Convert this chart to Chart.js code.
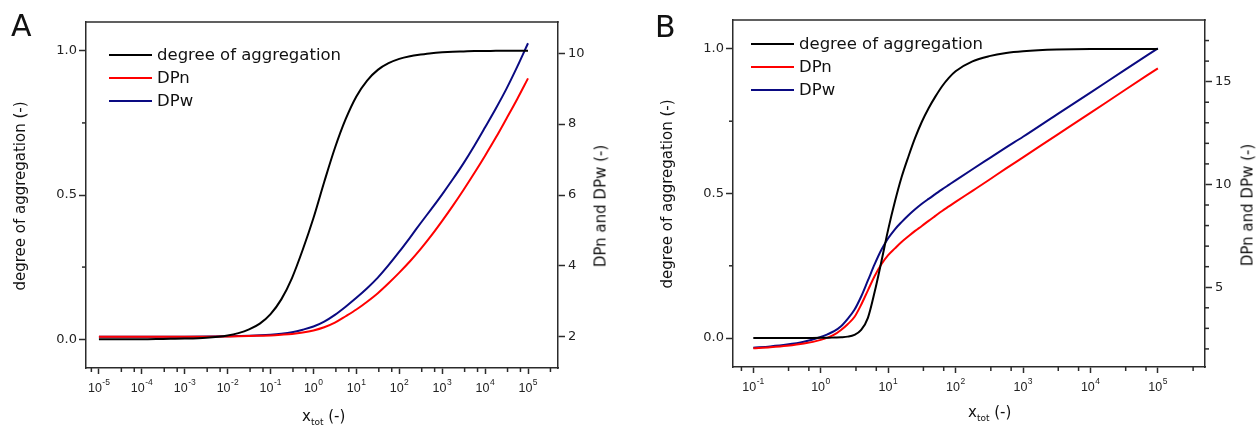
<!DOCTYPE html>
<html lang="en">
<head>
  <meta charset="UTF-8">
  <title>Degree of aggregation, DPn and DPw</title>
  <script src="https://cdn.jsdelivr.net/npm/chart.js@4"></script>
  <style>
    body { margin: 0; background: #fff; font-family: "DejaVu Sans", sans-serif; color: #111; }
    #wrap { position: relative; width: 1257px; height: 427px; overflow: hidden; }
    canvas { position: absolute; top: 0; }
    .panel { position: absolute; font-size: 30px; line-height: 1; }
    .title { position: absolute; font-size: 15px; line-height: 1; white-space: nowrap; }
    .rot { transform: translate(-50%, -50%) rotate(-90deg); }
    .title sub { font-size: 9px; vertical-align: -4px; line-height: 0; }
    .legend { position: absolute; font-size: 16.5px; white-space: nowrap; }
    .legend div { display: flex; align-items: center; height: 23px; }
    .legend .sw { display: inline-block; width: 43px; height: 2px; margin-right: 5px; }
  </style>
</head>
<body>
<div id="wrap">
  <canvas id="chartA" width="628" height="427" style="left:0"></canvas>
  <canvas id="chartB" width="629" height="427" style="left:628px"></canvas>

  <div class="panel" style="left:11px; top:11px">A</div>
  <div class="panel" style="left:655px; top:12px">B</div>

  <div class="legend" id="legendA" style="left:109px; top:43px"></div>
  <div class="legend" id="legendB" style="left:751px; top:32px"></div>

  <div class="title rot" style="left:20px; top:196px">degree of aggregation (-)</div>
  <div class="title rot" style="left:601px; top:206px">DPn and DPw (-)</div>
  <div class="title" style="left:302px; top:409px">x<sub>tot</sub> (-)</div>

  <div class="title rot" style="left:667px; top:194px">degree of aggregation (-)</div>
  <div class="title rot" style="left:1248px; top:205px">DPn and DPw (-)</div>
  <div class="title" style="left:968px; top:405px">x<sub>tot</sub> (-)</div>
</div>

<script>
  const seriesNames = ['degree of aggregation', 'DPn', 'DPw'];
  const seriesColors = ['#000000', '#ff0000', '#0a0a82'];

  // panel A
  const xA = [1e-5, 3.16e-5, 1e-4, 3.16e-4, 1e-3, 3.16e-3, 1e-2, 1.78e-2, 3.16e-2, 5.62e-2,
              0.1, 0.178, 0.316, 0.562, 1, 1.78, 3.16, 5.62, 10, 17.8, 31.6, 56.2,
              100, 178, 316, 562, 1000, 1780, 3160, 5620, 1e4, 1.78e4, 3.16e4, 5.62e4, 1e5];
  const aggA = [0, 0, 0, 0.001, 0.002, 0.005, 0.013, 0.021, 0.034, 0.054,
                0.087, 0.138, 0.212, 0.31, 0.42, 0.545, 0.663, 0.763, 0.842, 0.897, 0.934, 0.957,
                0.972, 0.981, 0.987, 0.992, 0.995, 0.997, 0.998, 0.999, 0.999, 1.0, 1.0, 1.0, 1.0];
  const dpnA = [2.0, 2.0, 2.0, 2.0, 2.001, 2.003, 2.01, 2.014, 2.02, 2.03,
                2.04, 2.058, 2.08, 2.12, 2.18, 2.27, 2.4, 2.58, 2.77, 2.99, 3.23, 3.51,
                3.81, 4.13, 4.48, 4.86, 5.27, 5.7, 6.15, 6.62, 7.11, 7.62, 8.16, 8.71, 9.29];
  const dpwA = [2.0, 2.0, 2.0, 2.001, 2.002, 2.006, 2.015, 2.022, 2.03, 2.042,
                2.06, 2.088, 2.13, 2.2, 2.29, 2.43, 2.62, 2.85, 3.1, 3.37, 3.67, 4.02,
                4.4, 4.8, 5.21, 5.61, 6.02, 6.45, 6.9, 7.39, 7.91, 8.44, 9.0, 9.62, 10.28];
  const xExpA = [-5, -4, -3, -2, -1, 0, 1, 2, 3, 4, 5];
  const dpTicksA = [2, 4, 6, 8, 10];
  const dpLabelsA = [2, 4, 6, 8, 10];

  // panel B
  const xB = [0.1, 0.178, 0.316, 0.562, 1, 1.26, 1.58, 2, 2.51, 3.16, 3.98, 5.01, 6.31, 7.94,
              10, 12.6, 15.8, 20, 25.1, 31.6, 39.8, 50.1, 63.1, 79.4, 100,
              178, 316, 562, 1000, 3160, 1e4, 3.16e4, 1e5];
  const aggB = [0, 0, 0, 0, 0.001, 0.001, 0.002, 0.003, 0.005, 0.011, 0.028, 0.07, 0.16, 0.265,
                0.375, 0.472, 0.556, 0.628, 0.692, 0.748, 0.795, 0.835, 0.871, 0.9, 0.923,
                0.957, 0.975, 0.986, 0.992, 0.998, 1.0, 1.0, 1.0];
  const dpnB = [2.03, 2.08, 2.15, 2.26, 2.44, 2.55, 2.69, 2.92, 3.2, 3.55, 4.15, 4.85, 5.55, 6.12,
                6.56, 6.89, 7.2, 7.48, 7.74, 7.98, 8.23, 8.47, 8.71, 8.93, 9.15,
                9.69, 10.23, 10.78, 11.32, 12.4, 13.48, 14.57, 15.65];
  const dpwB = [2.06, 2.12, 2.21, 2.35, 2.58, 2.71, 2.86, 3.1, 3.46, 3.9, 4.55, 5.33, 6.12, 6.82,
                7.38, 7.82, 8.17, 8.5, 8.79, 9.06, 9.3, 9.53, 9.76, 9.98, 10.2,
                10.74, 11.27, 11.8, 12.32, 13.4, 14.47, 15.55, 16.62];
  const xExpB = [-1, 0, 1, 2, 3, 4, 5];
  const dpTicksB = [2, 3, 4, 5, 6, 7, 8, 9, 10, 11, 12, 13, 14, 15, 16, 17];
  const dpLabelsB = [5, 10, 15];

  const aggTicks = [0, 0.25, 0.5, 0.75, 1.0];
  const aggLabels = [0, 0.5, 1.0];

  Chart.defaults.font.family = '"DejaVu Sans", sans-serif';
  Chart.defaults.color = '#222';

  const axisColor = '#2b2b2b';
  const isDecade = v => Math.abs(Math.log10(v) - Math.round(Math.log10(v))) < 1e-6;

  // top edge of the frame, short minor ticks, and 10^n labels with a raised exponent
  const axisExtras = {
    id: 'axisExtras',
    afterDraw(chart) {
      const a = chart.chartArea, c = chart.ctx;
      c.save();
      c.strokeStyle = axisColor;
      c.lineWidth = 1.5;
      c.beginPath();
      c.moveTo(a.left - 0.75, a.top);
      c.lineTo(a.right + 0.75, a.top);
      c.stroke();

      Object.values(chart.scales).forEach(s => {
        s.ticks.forEach(t => {
          if (t.label !== '') return;
          const p = s.getPixelForValue(t.value);
          c.beginPath();
          if (s.axis === 'x') { c.moveTo(p, s.top); c.lineTo(p, s.top + 4); }
          else if (s.position === 'left') { c.moveTo(s.right, p); c.lineTo(s.right - 4, p); }
          else { c.moveTo(s.left, p); c.lineTo(s.left + 4, p); }
          c.stroke();
        });
      });

      const xs = chart.scales.x;
      c.fillStyle = '#222';
      c.textBaseline = 'alphabetic';
      c.textAlign = 'left';
      xs.ticks.forEach(t => {
        if (t.label === '') return;
        const exp = String(Math.round(Math.log10(t.value)));
        const p = xs.getPixelForValue(t.value);
        c.font = '12.5px "Liberation Sans", Arial, sans-serif';
        const w1 = c.measureText('10').width;
        c.font = '8.5px "Liberation Sans", Arial, sans-serif';
        const w2 = c.measureText(exp).width;
        const x0 = p - (w1 + w2 + 0.5) / 2;
        c.fillText(exp, x0 + w1 + 0.5, xs.top + 17);
        c.font = '12.5px "Liberation Sans", Arial, sans-serif';
        c.fillText('10', x0, xs.top + 24);
      });
      c.restore();
    }
  };

  function makeChart(id, cfg) {
    const line = (ys, i, axis) => ({
      label: seriesNames[i],
      data: cfg.x.map((x, k) => ({ x, y: ys[k] })),
      yAxisID: axis,
      borderColor: seriesColors[i],
      backgroundColor: seriesColors[i],
      borderWidth: 2,
      pointRadius: 0,
      cubicInterpolationMode: 'monotone',
      fill: false
    });
    const border = { display: true, color: axisColor, width: 1.5 };
    // major ticks come from the library, minor ones are hidden here and drawn shorter by the plugin
    const grid = len => ({
      drawOnChartArea: false,
      tickLength: len,
      tickWidth: 1.5,
      tickColor: ctx => (ctx.tick && ctx.tick.label === '') ? 'rgba(0,0,0,0)' : axisColor
    });

    // decades plus two minor ticks (3.33 and 6.67) per decade
    const xTicks = [];
    cfg.exps.forEach(e => {
      const d = Math.pow(10, e);
      [d / 1.5, d, d * 3.333].forEach(v => {
        if (v >= cfg.xMin && v <= cfg.xMax) xTicks.push(v);
      });
    });
    xTicks.sort((a, b) => a - b);

    return new Chart(document.getElementById(id), {
      type: 'line',
      data: {
        datasets: [line(cfg.agg, 0, 'y'), line(cfg.dpn, 1, 'y2'), line(cfg.dpw, 2, 'y2')]
      },
      options: {
        responsive: false,
        animation: false,
        events: [],
        layout: { padding: { top: cfg.top, left: 0, right: 0, bottom: 0 } },
        plugins: { legend: { display: false }, tooltip: { enabled: false } },
        scales: {
          x: {
            type: 'logarithmic',
            bounds: 'data',
            min: cfg.xMin,
            max: cfg.xMax,
            border, grid: grid(6),
            afterBuildTicks: s => { s.ticks = xTicks.map(v => ({ value: v })); },
            afterFit: s => { s.height = cfg.bottom; },
            ticks: {
              autoSkip: false,
              maxRotation: 0,
              color: 'rgba(0,0,0,0)',
              callback: v => isDecade(v) ? '10^' + Math.round(Math.log10(v)) : ''
            }
          },
          y: {
            position: 'left',
            bounds: 'data',
            min: -0.1,
            max: 1.1,
            border, grid: grid(7),
            afterBuildTicks: s => { s.ticks = aggTicks.map(v => ({ value: v })); },
            afterFit: s => { s.width = cfg.left; },
            ticks: {
              padding: 2,
              font: { size: 13 },
              callback: v => aggLabels.includes(v) ? v.toFixed(1) : ''
            }
          },
          y2: {
            position: 'right',
            bounds: 'data',
            min: cfg.dpMin,
            max: cfg.dpMax,
            border, grid: grid(7),
            afterBuildTicks: s => { s.ticks = cfg.dpTicks.map(v => ({ value: v })); },
            afterFit: s => { s.width = cfg.right; },
            ticks: {
              padding: 3,
              font: { size: 13 },
              callback: v => cfg.dpLabels.includes(v) ? String(v) : ''
            }
          }
        }
      },
      plugins: [axisExtras]
    });
  }

  function buildLegend(elId, chart) {
    const el = document.getElementById(elId);
    chart.data.datasets.forEach(ds => {
      const row = document.createElement('div');
      const sw = document.createElement('span');
      sw.className = 'sw';
      sw.style.background = ds.borderColor;
      row.appendChild(sw);
      row.appendChild(document.createTextNode(ds.label));
      el.appendChild(row);
    });
  }

  const chartA = makeChart('chartA', {
    x: xA, agg: aggA, dpn: dpnA, dpw: dpwA,
    exps: xExpA, xMin: 5e-6, xMax: 5e5,
    dpMin: 1.12, dpMax: 10.88, dpTicks: dpTicksA, dpLabels: dpLabelsA,
    top: 22, left: 86, right: 70, bottom: 59
  });
  const chartB = makeChart('chartB', {
    x: xB, agg: aggB, dpn: dpnB, dpw: dpwB,
    exps: xExpB, xMin: 0.05, xMax: 5e5,
    dpMin: 1.12, dpMax: 18.0, dpTicks: dpTicksB, dpLabels: dpLabelsB,
    top: 20, left: 105, right: 52, bottom: 60
  });

  buildLegend('legendA', chartA);
  buildLegend('legendB', chartB);
</script>
</body>
</html>
